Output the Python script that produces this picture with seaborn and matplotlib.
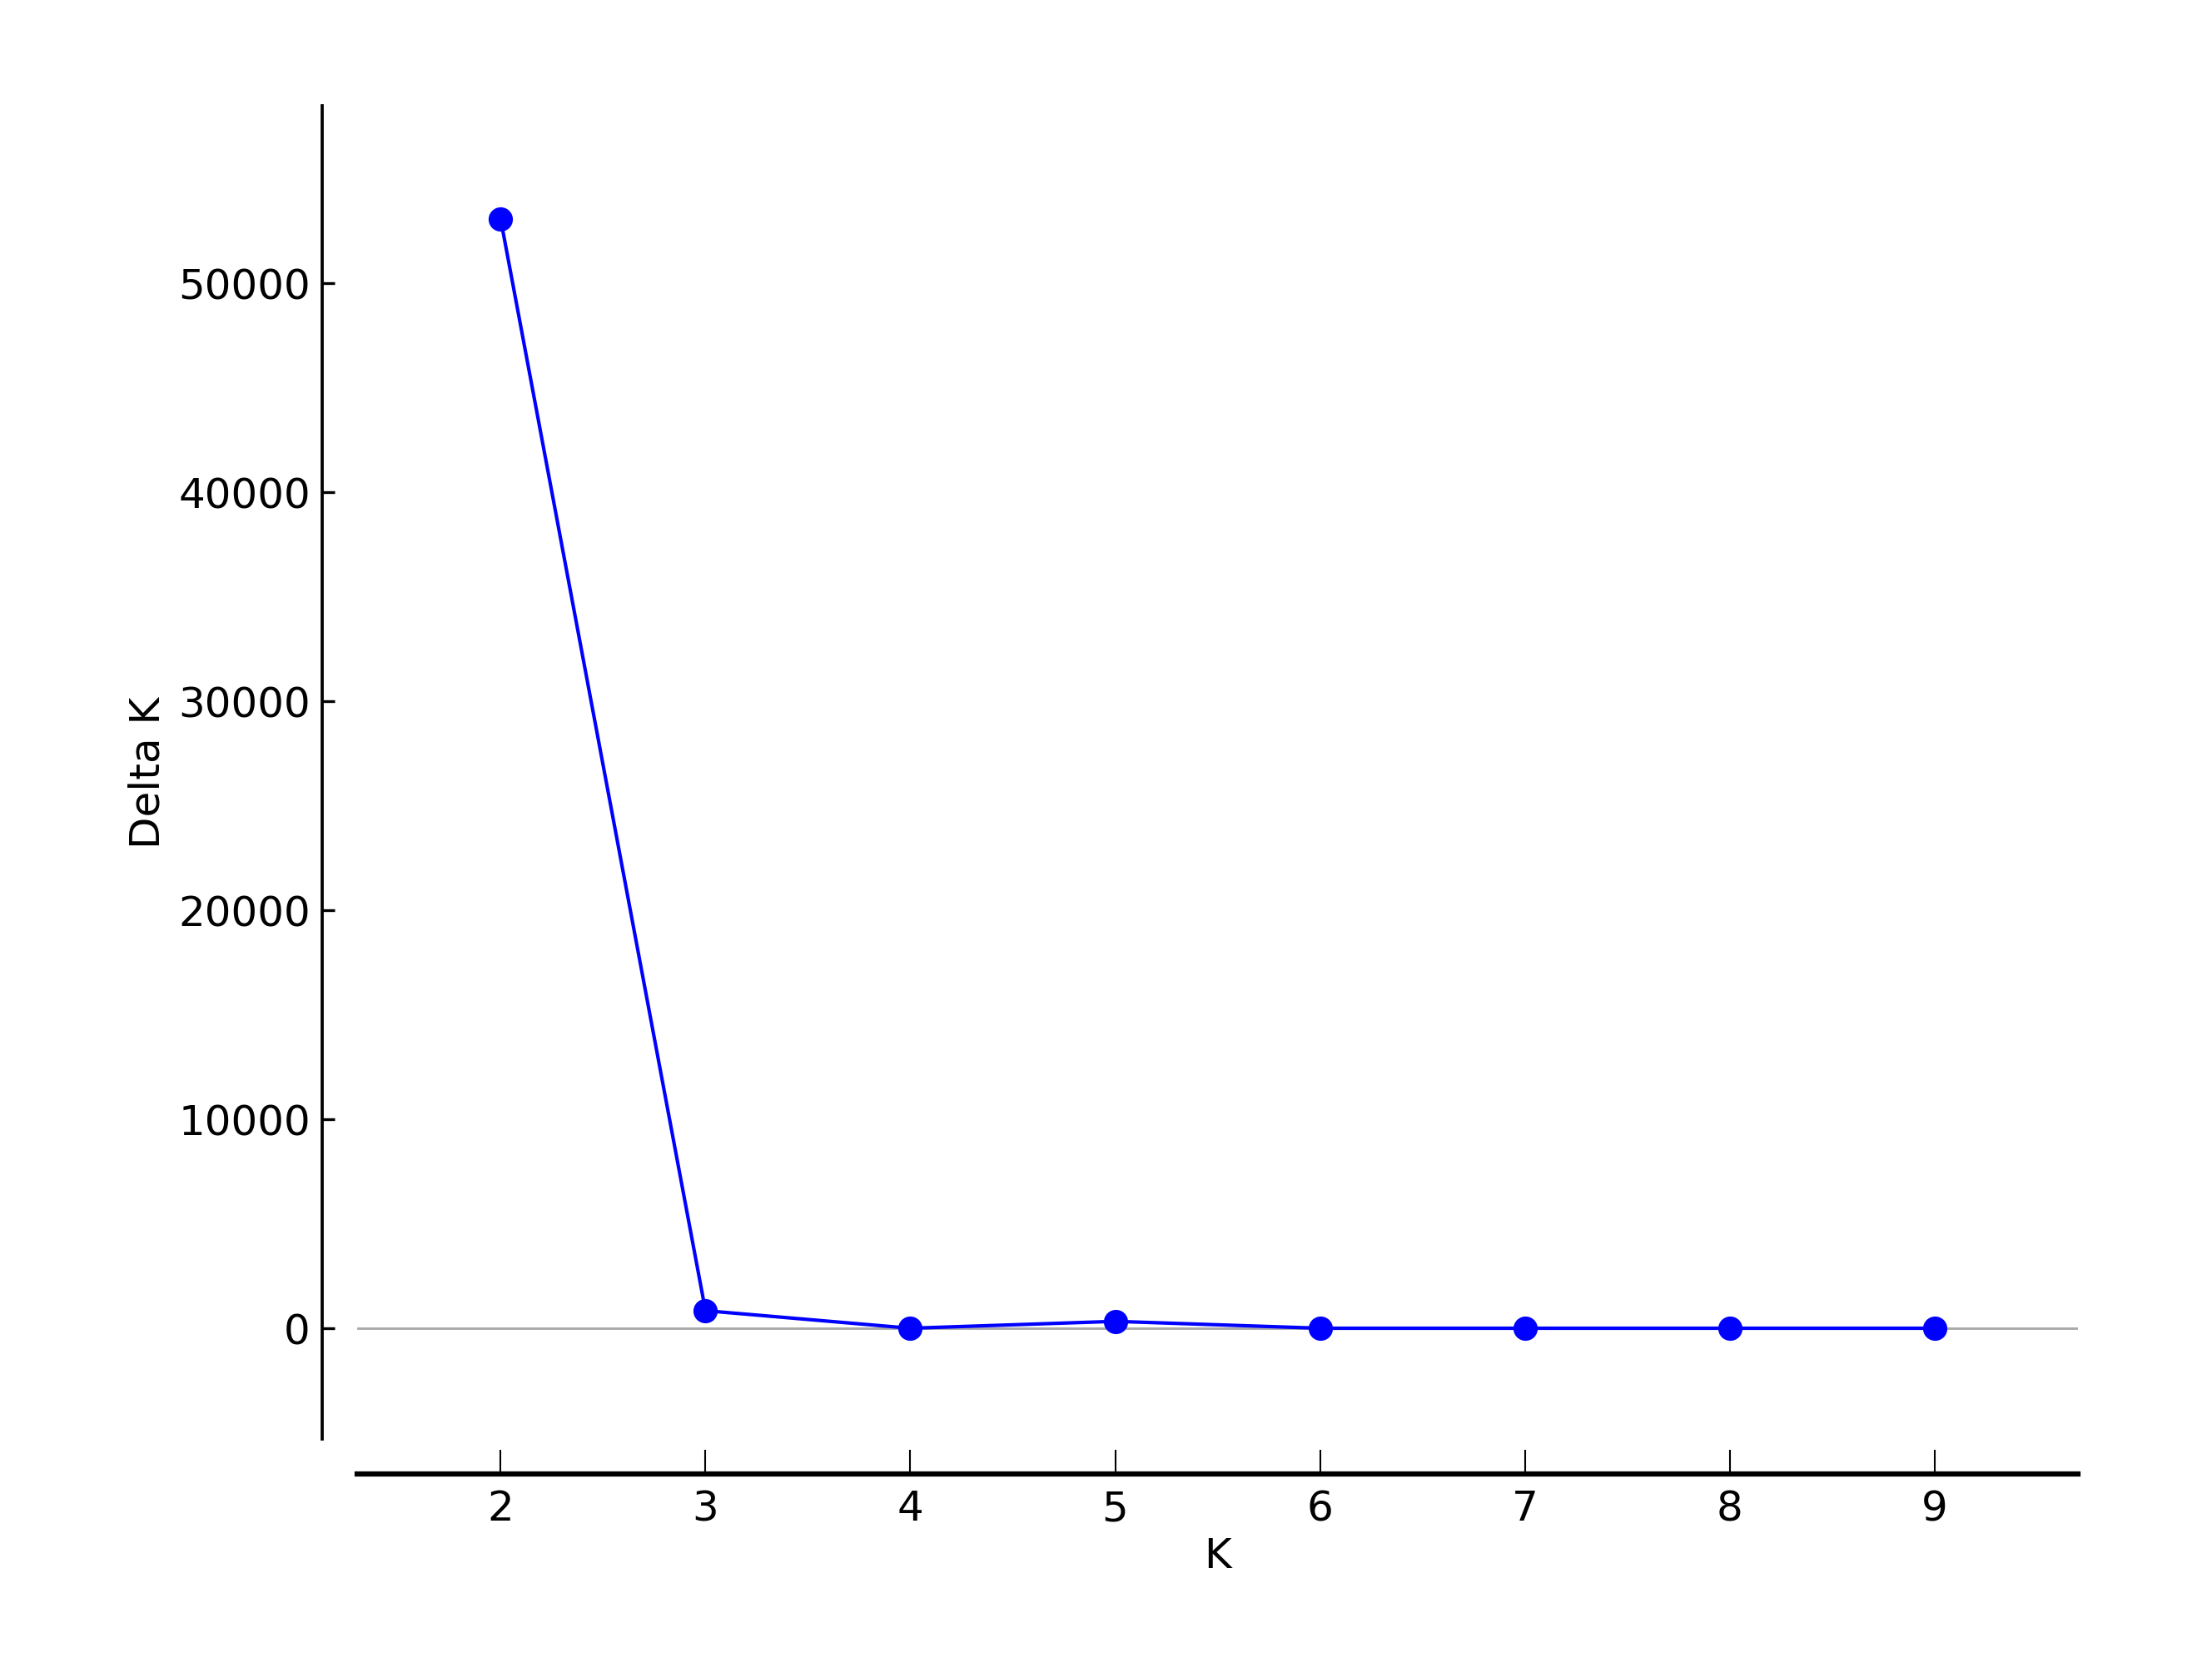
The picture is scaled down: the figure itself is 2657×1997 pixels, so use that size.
import pandas as pd
import numpy as np
import seaborn as sns
import matplotlib.pyplot as plt

# values
k_values = [2, 3, 4, 5, 6, 7, 8, 9]
delta_k = [53080, 840, 0, 330, 0, 0, 0, 0]
y_ticks = [0, 10000, 20000, 30000, 40000, 50000]
x_ticks = [2, 3, 4, 5, 6, 7, 8, 9]

df = pd.DataFrame({'K': k_values, 'Delta K': delta_k})

sns.set_style('ticks', {'xtick.direction': 'in', 'ytick.direction': 'in',
                        'axes.edgecolor': 'black', 'text.color': 'black',
                        'axes.labelcolor': 'black', 'xtick.color': 'black',
                        'ytick.color': 'black'})
plt.rcParams['font.family'] = ['DejaVu Sans']

fig = plt.figure(figsize=(2657 / 300, 1997 / 300), dpi=300)
ax = fig.add_axes([0.1615, 0.1347, 0.9394 - 0.1615, 0.9364 - 0.1347])

ax.axhline(0, color='#aaaaaa', lw=0.7, zorder=1)
sns.lineplot(data=df, x='K', y='Delta K', ax=ax, color='#0000ff', lw=1.0,
             marker='o', markersize=7, markeredgewidth=0, zorder=3)

ax.set_xlim(1.3, 9.7)
ax.set_ylim(-5300, 58500)
ax.set_xticks(x_ticks)
ax.set_yticks(y_ticks)
ax.tick_params(axis='x', length=7, width=0.5, pad=4.5, labelsize=12)
ax.tick_params(axis='y', length=3.5, width=0.8, pad=3.5, labelsize=12)
ax.set_xlabel('K', fontsize=12, labelpad=2)
ax.set_ylabel('Delta K', fontsize=12, labelpad=3)

sns.despine(ax=ax, offset=10)
ax.spines['left'].set_linewidth(0.9)
ax.spines['bottom'].set_linewidth(1.5)

fig.savefig('out.png', dpi=300)
